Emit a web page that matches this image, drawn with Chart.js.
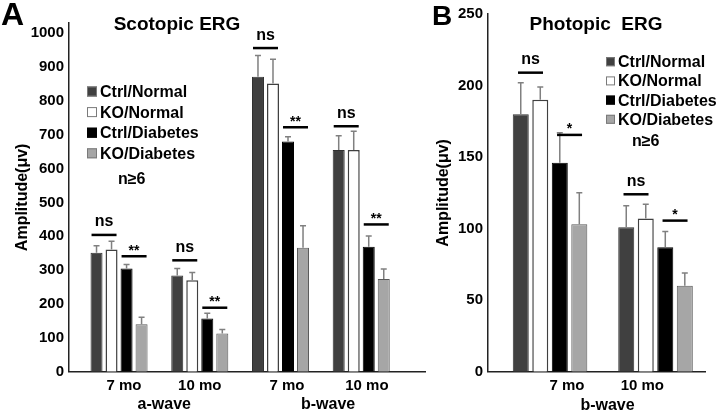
<!DOCTYPE html>
<html><head><meta charset="utf-8">
<script src="https://cdn.jsdelivr.net/npm/chart.js@4/dist/chart.umd.min.js"></script>
<style>
html,body{margin:0;padding:0;background:#fff;width:720px;height:415px;overflow:hidden}
#ca{position:absolute;left:0;top:0}
#cb{position:absolute;left:430px;top:0}
</style></head><body>
<canvas id="ca" width="430" height="415"></canvas>
<canvas id="cb" width="290" height="415"></canvas>
<script>
// ---------------- DATA ----------------
const seriesNames = ['Ctrl/Normal', 'KO/Normal', 'Ctrl/Diabetes', 'KO/Diabetes'];

// Panel A: Scotopic ERG (groups: a-wave 7 mo, a-wave 10 mo, b-wave 7 mo, b-wave 10 mo)
const scotopicCategories = ['7 mo', '10 mo', '7 mo', '10 mo'];
const scotopicWaves = ['a-wave', 'b-wave'];
const scotopicCtrlNormal   = [351, 284, 871, 655];
const scotopicKONormal     = [361, 270, 851, 655];
const scotopicCtrlDiabetes = [305, 157, 680, 369];
const scotopicKODiabetes   = [140, 113, 366, 274];
const scotopicErrCtrlNormal   = [21, 21, 63, 42];
const scotopicErrKONormal     = [24, 23, 72, 55];
const scotopicErrCtrlDiabetes = [12, 16, 14, 32];
const scotopicErrKODiabetes   = [21, 12, 65, 29];
const scotopicSigNormalLevel   = [404, 329, 956, 725];
const scotopicSigDiabetesLevel = [341, 189, 722, 435];
const scotopicSigNormalText    = ['ns', 'ns', 'ns', 'ns'];
const scotopicSigDiabetesText  = ['**', '**', '**', '**'];
const scotopicYTicks = [0, 100, 200, 300, 400, 500, 600, 700, 800, 900, 1000];

// Panel B: Photopic ERG (b-wave 7 mo, 10 mo)
const photopicCategories = ['7 mo', '10 mo'];
const photopicWaves = ['b-wave'];
const photopicCtrlNormal   = [180, 101];
const photopicKONormal     = [190, 107];
const photopicCtrlDiabetes = [146, 87];
const photopicKODiabetes   = [103, 60];
const photopicErrCtrlNormal   = [22, 15];
const photopicErrKONormal     = [9, 10];
const photopicErrCtrlDiabetes = [21, 11];
const photopicErrKODiabetes   = [22, 9];
const photopicSigNormalLevel   = [209, 124];
const photopicSigDiabetesLevel = [165.5, 105.6];
const photopicSigNormalText    = ['ns', 'ns'];
const photopicSigDiabetesText  = ['*', '*'];
const photopicYTicks = [0, 50, 100, 150, 200, 250];

// ---------------- STYLE ----------------
const FONT = '"Liberation Sans", Arial, Helvetica, sans-serif';
Chart.defaults.font.family = FONT;
Chart.defaults.color = '#000';
const fills   = ['#404040', '#ffffff', '#000000', '#a6a6a6'];
const borders = ['#303030', '#404040', '#000000', '#5a5a5a'];
const bwidths = [1, 1.5, 1, 1];

const decoPlugin = {
  id: 'deco',
  afterDatasetsDraw(chart, args, o) {
    const ctx = chart.ctx, ys = chart.scales.y;
    ctx.save();
    // error bars
    o.errors.forEach((errs, di) => {
      const meta = chart.getDatasetMeta(di);
      meta.data.forEach((el, j) => {
        const top = ys.getPixelForValue(o.series[di][j] + errs[j]);
        ctx.strokeStyle = '#808080';
        ctx.lineWidth = 1.5;
        ctx.beginPath();
        ctx.moveTo(el.x, el.y); ctx.lineTo(el.x, top);
        ctx.moveTo(el.x - o.cap, top); ctx.lineTo(el.x + o.cap, top);
        ctx.stroke();
      });
    });
    // significance marks
    const drawSig = (da, db, levels, texts) => {
      const ma = chart.getDatasetMeta(da), mb = chart.getDatasetMeta(db);
      levels.forEach((lv, g) => {
        const cx = (ma.data[g].x + mb.data[g].x) / 2;
        const py = ys.getPixelForValue(lv);
        ctx.strokeStyle = '#000'; ctx.lineWidth = 2.5;
        ctx.beginPath(); ctx.moveTo(cx - o.sigHalf, py); ctx.lineTo(cx + o.sigHalf, py); ctx.stroke();
        ctx.fillStyle = '#000'; ctx.textAlign = 'center'; ctx.textBaseline = 'alphabetic';
        const t = texts[g];
        if (t.indexOf('*') >= 0) {
          ctx.font = 'bold 14px ' + FONT;
          ctx.fillText(t, cx, py - 1.5);
        } else {
          ctx.font = 'bold 16px ' + FONT;
          ctx.fillText(t, cx, py - 8.5);
        }
      });
    };
    drawSig(0, 1, o.sigN, o.sigNText);
    drawSig(2, 3, o.sigD, o.sigDText);
    ctx.restore();
  },
  afterDraw(chart, args, o) {
    const ctx = chart.ctx, xs = chart.scales.xt;
    ctx.save();
    ctx.fillStyle = '#000';
    ctx.textBaseline = 'alphabetic';
    // panel letter
    ctx.textAlign = 'left';
    ctx.font = 'bold ' + o.letter.size + 'px ' + FONT;
    ctx.fillText(o.letter.text, o.letter.x, o.letter.y);
    // title
    ctx.textAlign = 'center';
    ctx.font = 'bold ' + o.title.size + 'px ' + FONT;
    ctx.fillText(o.title.text, o.title.x, o.title.y);
    // wave labels
    ctx.font = 'bold 16px ' + FONT;
    ctx.textBaseline = 'middle';
    o.waves.forEach((w, i) => ctx.fillText(w, xs.getPixelForValue(o.wavePos[i]), o.waveY));
    // legend
    ctx.textAlign = 'left';
    ctx.font = 'bold 16px ' + FONT;
    const L = o.legend;
    chart.data.datasets.forEach((ds, i) => {
      const cy = L.y + i * L.row;
      ctx.fillStyle = ds.backgroundColor;
      ctx.fillRect(L.x, cy - L.box / 2, L.box, L.box);
      ctx.strokeStyle = i === 2 ? '#000' : '#7a7a7a';
      ctx.lineWidth = 1;
      ctx.strokeRect(L.x + 0.5, cy - L.box / 2 + 0.5, L.box - 1, L.box - 1);
      ctx.fillStyle = '#000';
      ctx.fillText(ds.label, L.x + L.box + L.gap, cy + 1);
    });
    ctx.fillText(o.nText.text, o.nText.x, o.nText.y);
    ctx.restore();
  }
};

function makePanel(canvasId, p) {
  const datasets = p.series.map((vals, i) => ({
    label: seriesNames[i],
    data: vals.map((v, g) => ({ x: g, y: v })),
    backgroundColor: fills[i],
    borderColor: borders[i],
    borderWidth: bwidths[i],
    borderSkipped: 'start',
    xAxisID: 'x', yAxisID: 'y',
    categoryPercentage: p.catPct,
    barPercentage: p.barPct
  }));
  const tickFont = { size: 15, weight: 'bold', family: FONT };
  return new Chart(document.getElementById(canvasId), {
    type: 'bar',
    data: { datasets },
    options: {
      responsive: false, animation: false, devicePixelRatio: 1,
      layout: { padding: p.padding },
      plugins: {
        legend: { display: false }, tooltip: { enabled: false },
        deco: p.deco
      },
      scales: {
        x: {
          type: 'linear', display: false, offset: false,
          min: p.xMin, max: p.xMax,
          afterBuildTicks: s => { s.ticks = p.categories.map((c, i) => ({ value: i })); }
        },
        xt: {
          type: 'linear', position: 'bottom', offset: false,
          min: p.xMin, max: p.xMax,
          grid: { display: false, drawTicks: false },
          border: { display: true, color: '#222', width: 1.5 },
          ticks: {
            font: tickFont, color: '#000', padding: p.xTickPad, autoSkip: false, maxRotation: 0,
            callback: (v, i) => p.categories[i]
          },
          afterBuildTicks: s => { s.ticks = p.tickPos.map(v => ({ value: v })); },
          afterFit: s => { s.height = p.xHeight; }
        },
        y: {
          type: 'linear', position: 'left', min: 0, max: p.yMax,
          grid: { display: false, drawTicks: false },
          border: { display: true, color: '#222', width: 1.5 },
          ticks: { font: tickFont, color: '#000', padding: 5, callback: v => String(v) },
          afterBuildTicks: s => { s.ticks = p.yTicks.map(v => ({ value: v })); },
          title: {
            display: true, text: 'Amplitude(μv)', color: '#000',
            font: { size: 16, weight: 'bold', family: FONT },
            padding: { top: p.yTitlePad, bottom: 0 }
          },
          afterFit: s => { s.width = p.yWidth; }
        }
      }
    },
    plugins: [decoPlugin]
  });
}

const scotopicSeries = [scotopicCtrlNormal, scotopicKONormal, scotopicCtrlDiabetes, scotopicKODiabetes];
const scotopicErrors = [scotopicErrCtrlNormal, scotopicErrKONormal, scotopicErrCtrlDiabetes, scotopicErrKODiabetes];
makePanel('ca', {
  series: scotopicSeries, categories: scotopicCategories,
  tickPos: [0.06, 1.0, 2.08, 3.07],
  xMin: -0.62, xMax: 3.79, yMax: 1030, yTicks: scotopicYTicks,
  catPct: 0.744, barPct: 0.8,
  padding: { top: 23, left: 0, right: 5, bottom: 0 },
  yWidth: 69, xHeight: 43.3, xTickPad: 5, yTitlePad: 13,
  deco: {
    series: scotopicSeries, errors: scotopicErrors, cap: 3,
    sigN: scotopicSigNormalLevel, sigD: scotopicSigDiabetesLevel,
    sigNText: scotopicSigNormalText, sigDText: scotopicSigDiabetesText, sigHalf: 12.5,
    letter: { text: 'A', x: 1, y: 25, size: 32 },
    title: { text: 'Scotopic ERG', x: 177, y: 29.5, size: 19 },
    waves: scotopicWaves, wavePos: [0.56, 2.59], waveY: 405,
    legend: { x: 87, y: 91.5, row: 20.6, box: 10, gap: 3 },
    nText: { text: 'n≥6', x: 118, y: 180 }
  }
});

const photopicSeries = [photopicCtrlNormal, photopicKONormal, photopicCtrlDiabetes, photopicKODiabetes];
const photopicErrors = [photopicErrCtrlNormal, photopicErrKONormal, photopicErrCtrlDiabetes, photopicErrKODiabetes];
makePanel('cb', {
  series: photopicSeries, categories: photopicCategories,
  tickPos: [0.16, 0.875],
  xMin: -0.588, xMax: 1.469, yMax: 250, yTicks: photopicYTicks,
  catPct: 0.74, barPct: 0.82,
  padding: { top: 13, left: 0, right: 15, bottom: 0 },
  yWidth: 58, xHeight: 43.3, xTickPad: 5, yTitlePad: 4,
  deco: {
    series: photopicSeries, errors: photopicErrors, cap: 3,
    sigN: photopicSigNormalLevel, sigD: photopicSigDiabetesLevel,
    sigNText: photopicSigNormalText, sigDText: photopicSigDiabetesText, sigHalf: 12.5,
    letter: { text: 'B', x: 2, y: 25, size: 28 },
    title: { text: 'Photopic  ERG', x: 166, y: 29.5, size: 19 },
    waves: photopicWaves, wavePos: [0.545], waveY: 406,
    legend: { x: 176, y: 61.7, row: 19.2, box: 9, gap: 3 },
    nText: { text: 'n≥6', x: 202, y: 142 }
  }
});
</script>
</body></html>
